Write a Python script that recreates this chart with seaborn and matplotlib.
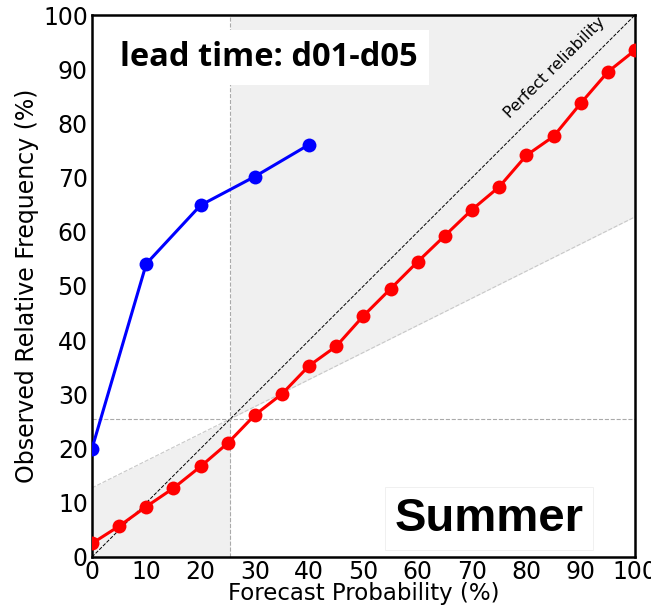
import numpy as np
import pandas as pd
import matplotlib
matplotlib.use("Agg")
import matplotlib.pyplot as plt
import seaborn as sns

# reliability data
prob_blue = [0, 10, 20, 30, 40]
freq_blue = [20.0, 54.1, 64.9, 70.2, 76.1]

prob_red = [0, 5, 10, 15, 20, 25, 30, 35, 40, 45, 50,
            55, 60, 65, 70, 75, 80, 85, 90, 95, 100]
freq_red = [2.5, 5.7, 9.3, 12.7, 16.7, 21.0, 26.2, 30.1, 35.3, 38.9, 44.5,
            49.5, 54.5, 59.3, 64.1, 68.3, 74.1, 77.6, 83.7, 89.5, 93.5]

climatology = 25.5
ticks = list(range(0, 101, 10))

sns.set_style("white")
plt.rcParams['font.family'] = ['DejaVu Sans']
plt.rcParams['text.color'] = 'black'
plt.rcParams['axes.labelcolor'] = 'black'
plt.rcParams['xtick.color'] = 'black'
plt.rcParams['ytick.color'] = 'black'

fig = plt.figure(figsize=(6.51, 6.10), dpi=100)
ax = fig.add_axes([0.1413, 0.0869, 0.8341, 0.8885])

# skill region (between no-skill line and climatology)
xs = np.array([0, climatology, 100])
no_skill = (xs + climatology) / 2
ax.fill_between([0, climatology], [0, 0], [no_skill[0], no_skill[1]],
                color='#f0f0f0', lw=0, zorder=0)
ax.fill_between([climatology, 100], [no_skill[1], no_skill[2]], [100, 100],
                color='#f0f0f0', lw=0, zorder=0)
ax.plot(xs, no_skill, ls='--', color='#c8c8c8', lw=0.8, zorder=1)
ax.axvline(climatology, ls='--', color='#aaaaaa', lw=0.8, zorder=1)
ax.axhline(climatology, ls='--', color='#aaaaaa', lw=0.8, zorder=1)

# perfect reliability
ax.plot([0, 100], [0, 100], ls='--', color='black', lw=0.7, zorder=2)
ax.text(85.3, 90.2, 'Perfect reliability', rotation=45, fontsize=11.5,
        ha='center', va='center', rotation_mode='anchor', zorder=3)

df_blue = pd.DataFrame({'prob': prob_blue, 'freq': freq_blue})
df_red = pd.DataFrame({'prob': prob_red, 'freq': freq_red})
sns.lineplot(data=df_blue, x='prob', y='freq', ax=ax, color='blue', lw=2.2,
             marker='o', markersize=10, markeredgewidth=0, zorder=4)
sns.lineplot(data=df_red, x='prob', y='freq', ax=ax, color='red', lw=2.2,
             marker='o', markersize=10, markeredgewidth=0, zorder=4)

ax.set_xlim(0, 100)
ax.set_ylim(0, 100)
ax.set_xticks(ticks)
ax.set_yticks(ticks)
ax.tick_params(length=0, labelsize=17)
ax.tick_params(axis='x', pad=2)
ax.tick_params(axis='y', pad=3)
ax.set_xlabel('Forecast Probability (%)', fontsize=16.5, labelpad=-1)
ax.set_ylabel('Observed Relative Frequency (%)', fontsize=17, labelpad=3)
for s in ax.spines.values():
    s.set_linewidth(1.8)
    s.set_color('black')

# annotation boxes
ax.text(0.052, 0.921, 'lead time: d01-d05', transform=ax.transAxes,
        fontsize=23.5, fontweight='bold', family=['Open Sans', 'DejaVu Sans'],
        ha='left', va='center', zorder=5,
        bbox=dict(facecolor='white', edgecolor='none', pad=8))
ax.text(0.731, 0.071, 'Summer', transform=ax.transAxes,
        fontsize=34, fontweight='bold', family=['Liberation Sans', 'DejaVu Sans'],
        ha='center', va='center', zorder=5,
        bbox=dict(facecolor='white', edgecolor='#eeeeee', lw=0.6, pad=7))

fig.savefig('out.png', dpi=100)
